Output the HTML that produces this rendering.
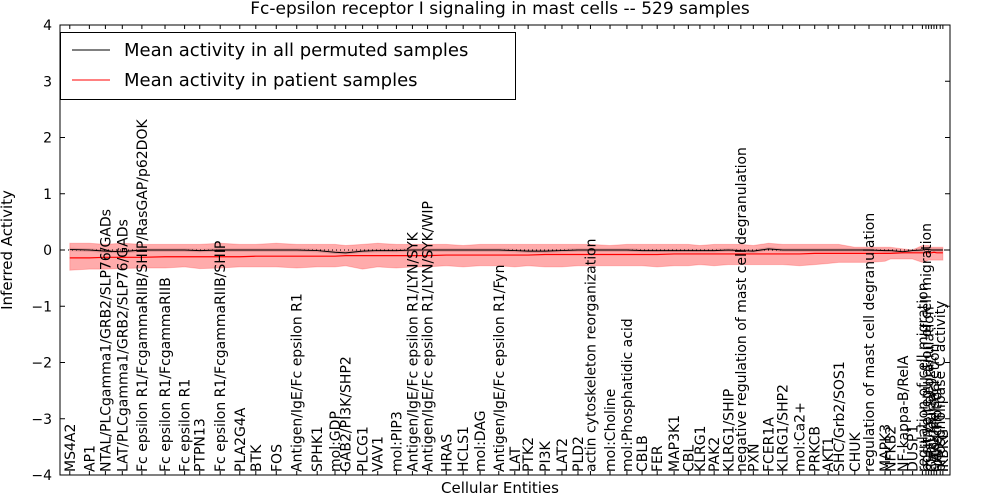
<!DOCTYPE html>
<html><head><meta charset="utf-8"><style>
html,body{margin:0;padding:0;background:#fff;}
svg{display:block;font-family:"DejaVu Sans","Liberation Sans",sans-serif;}
</style></head><body>
<svg id="chart" width="1000" height="500" viewBox="0 0 1000 500">
<rect width="1000" height="500" fill="#fff"/>
<text x="500" y="14" font-size="17" text-anchor="middle">Fc-epsilon receptor I signaling in mast cells -- 529 samples</text>
<g id="plot"></g>
<text transform="translate(12,250) rotate(-90)" font-size="15" text-anchor="middle">Inferred Activity</text>
<text x="500" y="493" font-size="15" text-anchor="middle">Cellular Entities</text>
</svg>
<script>
const labels=["MS4A2","AP1","NTAL/PLCgamma1/GRB2/SLP76/GADs","LAT/PLCgamma1/GRB2/SLP76/GADs","Fc epsilon R1/FcgammaRIIB/SHIP/RasGAP/p62DOK","Fc epsilon R1/FcgammaRIIB","Fc epsilon R1","PTPN13","Fc epsilon R1/FcgammaRIIB/SHIP","PLA2G4A",
"BTK","FOS","Antigen/IgE/Fc epsilon R1","SPHK1","mol:GDP","GAB2/PI3K/SHP2","PLCG1","VAV1","mol:PIP3","Antigen/IgE/Fc epsilon R1/LYN/SYK",
"Antigen/IgE/Fc epsilon R1/LYN/SYK/WIP","HRAS","HCLS1","mol:DAG","Antigen/IgE/Fc epsilon R1/Fyn","LAT","PTK2","PI3K","LAT2","PLD2",
"actin cytoskeleton reorganization","mol:Choline","mol:Phosphatidic acid","CBLB","FER","MAP3K1","CBL","KLRG1","PAK2","KLRG1/SHIP",
"negative regulation of mast cell degranulation","PXN","FCER1A","KLRG1/SHP2","mol:Ca2+","PRKCB","AKT1","SHC/Grb2/SOS1","CHUK","regulation of mast cell degranulation",
"MAPK3","NFKB2","NF-kappa-B/RelA","DUSP1","regulation of cell migration","positive regulation of cell migration","mast cell degranulation","Calcineurin","cytokine secretion","transcription",
"phospholipase C activity","IKBKG"];
const xvals=[1.1,3.3,5.1,7.0,9.2,11.8,14.0,15.7,18.0,20.2,
22.0,24.3,26.6,28.9,30.9,32.1,34.0,35.7,37.8,39.6,
41.3,43.4,45.3,47.2,49.3,51.1,52.6,54.5,56.4,58.2,
59.6,61.8,63.7,65.4,67.1,69.0,70.6,71.9,73.5,75.1,
76.5,77.9,79.6,81.2,83.1,84.8,86.3,87.5,89.3,90.9,
92.7,93.3,94.7,95.8,96.9,97.3,97.6,97.9,98.2,98.5,
98.9,99.2];
const permMean=[0.01,0.0,-0.02,-0.03,0.0,0.0,0.0,-0.01,0.0,0.0,
0.0,0.0,0.0,-0.01,-0.04,-0.05,-0.02,-0.01,-0.01,0.0,
0.0,0.0,0.0,0.0,0.0,-0.01,-0.02,-0.02,-0.01,0.0,
0.0,0.0,0.0,-0.01,-0.01,-0.01,-0.01,-0.01,-0.01,0.0,
-0.01,-0.02,0.02,0.0,0.0,0.0,0.0,0.0,0.0,0.0,
-0.01,-0.01,-0.03,-0.01,0.0,0.01,0.01,0.0,0.0,0.0,
0.0,0.0];
const patientMean=[-0.14,-0.14,-0.13,-0.13,-0.13,-0.12,-0.12,-0.12,-0.12,-0.12,
-0.11,-0.11,-0.11,-0.11,-0.11,-0.10,-0.10,-0.10,-0.10,-0.10,
-0.10,-0.09,-0.09,-0.09,-0.09,-0.09,-0.09,-0.08,-0.08,-0.08,
-0.08,-0.08,-0.08,-0.08,-0.08,-0.07,-0.07,-0.07,-0.07,-0.07,
-0.07,-0.07,-0.07,-0.07,-0.07,-0.06,-0.06,-0.06,-0.06,-0.06,
-0.06,-0.06,-0.05,-0.05,-0.05,-0.05,-0.05,-0.05,-0.04,-0.05,
-0.05,-0.05];
const bandHi=[0.12,0.12,0.1,0.12,0.1,0.1,0.1,0.1,0.12,0.1,
0.1,0.12,0.1,0.1,0.1,0.08,0.1,0.12,0.1,0.1,
0.1,0.1,0.08,0.1,0.1,0.1,0.1,0.1,0.1,0.1,
0.1,0.08,0.1,0.1,0.1,0.1,0.1,0.08,0.1,0.1,
0.1,0.08,0.12,0.1,0.1,0.1,0.1,0.1,0.05,0.05,
0.05,0.05,0.02,0.0,0.08,0.08,0.08,0.05,0.05,0.05,
0.05,0.05];
const bandLo=[-0.36,-0.34,-0.34,-0.33,-0.32,-0.32,-0.30,-0.33,-0.32,-0.30,
-0.30,-0.30,-0.32,-0.30,-0.30,-0.28,-0.34,-0.30,-0.32,-0.30,
-0.30,-0.28,-0.30,-0.28,-0.28,-0.30,-0.28,-0.30,-0.30,-0.28,
-0.28,-0.28,-0.28,-0.28,-0.30,-0.28,-0.28,-0.26,-0.28,-0.26,
-0.26,-0.26,-0.26,-0.26,-0.28,-0.26,-0.24,-0.22,-0.22,-0.22,
-0.20,-0.16,-0.16,-0.16,-0.22,-0.20,-0.18,-0.18,-0.18,-0.18,
-0.18,-0.18];
const yTicks=[-4,-3,-2,-1,0,1,2,3,4];

const L=60,R=950,T=25,B=475;
const sx=v=>L+(v/100)*(R-L);
const sy=v=>T+(4-v)/8*(B-T);
const NS="http://www.w3.org/2000/svg";
const g=document.getElementById('plot');
function mk(tag,attrs,parent){const e=document.createElementNS(NS,tag);for(const k in attrs)e.setAttribute(k,attrs[k]);(parent||g).appendChild(e);return e;}
const n=Math.min(labels.length,xvals.length);

let gp=[];for(let i=0;i<n;i++)gp.push(sx(xvals[i])+','+sy(permMean[i]+0.03));
for(let i=n-1;i>=0;i--)gp.push(sx(xvals[i])+','+sy(permMean[i]-0.03));
const grey=mk('polygon',{points:gp.join(' '),fill:'#bbb','fill-opacity':'0.6'});



let bp=[];for(let i=0;i<n;i++)bp.push(sx(xvals[i])+','+sy(bandHi[i]));
for(let i=n-1;i>=0;i--)bp.push(sx(xvals[i])+','+sy(bandLo[i]));
const band=mk('polygon',{points:bp.join(' '),fill:'#ff0000','fill-opacity':'0.33',stroke:'#ff0000','stroke-opacity':'0.2'});



const zl=mk('line',{x1:L,x2:R,y1:sy(0),y2:sy(0),stroke:'#000','stroke-dasharray':'1,3','stroke-width':'1'});



const pl=mk('polyline',{points:xvals.slice(0,n).map((x,i)=>sx(x)+','+sy(permMean[i])).join(' '),fill:'none',stroke:'#000','stroke-width':'1'});


const rl=mk('polyline',{points:xvals.slice(0,n).map((x,i)=>sx(x)+','+sy(patientMean[i])).join(' '),fill:'none',stroke:'#ff0000','stroke-width':'1.2'});



for(let i=0;i<n;i++){
  const x=sx(xvals[i]);
  const t=mk('text',{transform:`translate(${x+5},472) rotate(-90)`,'font-size':'14'});
  t.textContent=labels[i];
  
  
  mk('line',{x1:x,x2:x,y1:B,y2:B-4,stroke:'#000'});
  mk('line',{x1:x,x2:x,y1:T,y2:T+4,stroke:'#000'});
}
yTicks.forEach(v=>{
  const y=sy(v);
  mk('line',{x1:L,x2:L+5,y1:y,y2:y,stroke:'#000'});
  mk('line',{x1:R,x2:R-5,y1:y,y2:y,stroke:'#000'});
  const t=mk('text',{x:L-8,y:y+5,'font-size':'14','text-anchor':'end'});
  t.textContent=(v<0?'\u2212'+(-v):String(v));
  
  
});
const fr=mk('rect',{x:L,y:T,width:R-L,height:B-T,fill:'none',stroke:'#000','stroke-width':'1'});



const lg=mk('g',{});


mk('rect',{x:60.5,y:32.5,width:455,height:67,fill:'#fff',stroke:'#000'},lg);
mk('line',{x1:72,x2:110,y1:50,y2:50,stroke:'#000'},lg);
const l1=mk('text',{x:124,y:56,'font-size':'18'},lg);l1.textContent='Mean activity in all permuted samples';


mk('line',{x1:72,x2:110,y1:80,y2:80,stroke:'#ff0000'},lg);
const l2=mk('text',{x:124,y:86,'font-size':'18'},lg);l2.textContent='Mean activity in patient samples';


</script>
</body></html>
